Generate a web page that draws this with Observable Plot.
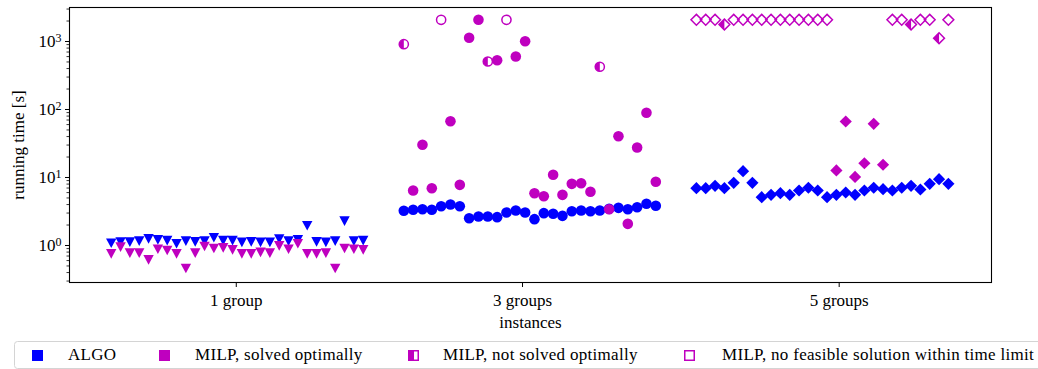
<!DOCTYPE html>
<html>
<head>
<meta charset="utf-8">
<script src="https://cdn.jsdelivr.net/npm/d3@7"></script>
<script src="https://cdn.jsdelivr.net/npm/@observablehq/plot@0.6"></script>
<style>
  html, body { margin: 0; padding: 0; background: white; }
  #wrap { position: relative; width: 1038px; height: 369px; overflow: hidden; font-family: "Liberation Serif", "DejaVu Serif", serif; }
  #chart svg { display: block; }
  #chart svg text, #legend text { font-family: "Liberation Serif", "DejaVu Serif", serif !important; }
  #legend text { letter-spacing: 0.3px; }
  #legend { position: absolute; left: 0; top: 336px; }
</style>
</head>
<body>
<div id="wrap">
  <div id="chart"></div>
  <svg id="legend" width="1038" height="33"></svg>
</div>
<script>
// ---- data ----
const groupLabels = ["1 group", "3 groups", "5 groups"];
const groupTickPos = [13.4, 44.07, 78.0];

const algo1 = [1.08,1.12,1.12,1.16,1.25,1.21,1.18,1.06,1.16,1.13,1.16,1.30,1.18,1.18,1.11,1.13,1.11,1.11,1.24,1.16,1.21,1.95,1.13,1.11,1.16,2.28,1.16,1.18];
const algo2 = [3.24,3.35,3.42,3.35,3.78,4.01,3.78,2.52,2.67,2.67,2.61,3.06,3.27,3.06,2.44,2.99,2.93,2.73,3.19,3.27,3.19,3.27,3.46,3.58,3.42,3.66,4.10,3.84];
const algo3 = [6.96,6.96,7.54,6.96,8.36,12.4,8.36,5.13,5.56,5.88,5.56,6.44,7.06,6.44,5.13,5.56,6.02,5.56,6.44,7.06,6.73,6.44,7.06,7.54,6.66,8.08,9.44,8.08];

const milp1 = [0.755,0.945,0.77,0.77,0.616,0.88,0.845,0.755,0.459,0.77,0.967,0.903,0.925,0.864,0.755,0.755,0.79,0.77,0.99,0.88,1.06,0.755,0.755,0.77,0.459,0.903,0.88,0.864];
const milp2 = [913,6.44,30.3,6.96,2085,67.3,7.8,1133,2085,508,531,2085,602,1010,5.88,5.31,10.96,5.56,8.07,8.24,6.16,425,3.42,40.5,2.08,27.6,89.4,8.64];
const milp3 = [2085,2085,2085,1778,2085,2085,2085,2085,2085,2085,2085,2085,2085,2085,2085,12.7,66.6,10.2,16.2,61.6,15.4,2085,2085,1778,2085,2085,1119,2085];

// S = solved optimally, N = not solved optimally, F = no feasible solution within time limit
const status1 = "SSSSSSSSSSSSSSSSSSSSSSSSSSSS".split("");
const status2 = "NSSSFSSSSNSFSSSSSSSSSNSSSSSS".split("");
const status3 = "FFFNFFFFFFFFFFFSSSSSSFFNFFNF".split("");

const legendLabels = ["ALGO", "MILP, solved optimally", "MILP, not solved optimally", "MILP, no feasible solution within time limit"];

// ---- build rows ----
const algos = [algo1, algo2, algo3];
const milps = [milp1, milp2, milp3];
const statuses = [status1, status2, status3];
const rows = [];
algos.forEach((arr, g) => arr.forEach((v, k) => {
  rows.push({g, x: g * 31.35 + k, algo: v, milp: milps[g][k], status: statuses[g][k]});
}));

const FONT = "Liberation Serif, DejaVu Serif, serif";
const FS = 17;
const BLUE = "#0000ff", MAG = "#bf00bf";
const rad = s => Math.sqrt(s / Math.PI);
const S = {
  tri: {draw(c, s) { const r = rad(s), h = r * 0.93; c.moveTo(-r, -h); c.lineTo(r, -h); c.lineTo(0, h); c.closePath(); }},
  triHalf: {draw(c, s) { const r = rad(s), h = r * 0.93; c.moveTo(0, -h); c.lineTo(-r, -h); c.lineTo(0, h); c.closePath(); }},
  circ: {draw(c, s) { const r = rad(s); c.moveTo(r, 0); c.arc(0, 0, r, 0, 2 * Math.PI); c.closePath(); }},
  circHalf: {draw(c, s) { const r = rad(s); c.moveTo(0, -r); c.arc(0, 0, r, -Math.PI / 2, Math.PI / 2, true); c.closePath(); }},
  dia: {draw(c, s) { const r = rad(s); c.moveTo(0, -r); c.lineTo(r, 0); c.lineTo(0, r); c.lineTo(-r, 0); c.closePath(); }},
  diaHalf: {draw(c, s) { const r = rad(s); c.moveTo(0, -r); c.lineTo(-r, 0); c.lineTo(0, r); c.closePath(); }}
};
const groupSym = [
  {full: S.tri, half: S.triHalf, r: 5.2, ro: 4.5},
  {full: S.circ, half: S.circHalf, r: 5.3, ro: 4.6},
  {full: S.dia, half: S.diaHalf, r: 6.1, ro: 5.4}
];

const marks = [];
groupSym.forEach((gs, g) => {
  const gr = rows.filter(d => d.g === g);
  marks.push(Plot.dot(gr, {x: "x", y: "algo", symbol: gs.full, r: gs.r, fill: BLUE}));
  marks.push(Plot.dot(gr.filter(d => d.status === "S"), {x: "x", y: "milp", symbol: gs.full, r: gs.r, fill: MAG}));
  marks.push(Plot.dot(gr.filter(d => d.status === "F"), {x: "x", y: "milp", symbol: gs.full, r: gs.ro, fill: "none", stroke: MAG, strokeWidth: 1.5}));
  const nr = gr.filter(d => d.status === "N");
  marks.push(Plot.dot(nr, {x: "x", y: "milp", symbol: gs.full, r: gs.ro, fill: "none", stroke: MAG, strokeWidth: 1.5}));
  marks.push(Plot.dot(nr, {x: "x", y: "milp", symbol: gs.half, r: gs.ro, fill: MAG}));
});

const majorTicks = [1, 10, 100, 1000];
const minorTicks = [];
for (let e = -1; e <= 3; e++) for (let m = 2; m <= 9; m++) {
  const v = m * Math.pow(10, e);
  if (v >= 0.2856 && v <= 3162) minorTicks.push(v);
}

const chart = Plot.plot({
  width: 1038,
  height: 336,
  marginLeft: 69,
  marginRight: 47,
  marginTop: 7,
  marginBottom: 54,
  x: {type: "linear", domain: [-4.47, 94.32], axis: null},
  y: {type: "log", domain: [0.2856, 3162], axis: null},
  style: {fontFamily: FONT, fontSize: FS + "px", color: "black", background: "white"},
  marks: [
    ...marks,
    Plot.frame({stroke: "black", strokeWidth: 1.1}),
    Plot.axisY(minorTicks, {anchor: "left", tickSize: 2.5, tickFormat: () => "", label: null, strokeWidth: 0.8}),
    Plot.axisY(majorTicks, {anchor: "left", tickSize: 4, tickPadding: 4, tickFormat: d => "10^" + Math.round(Math.log10(d)), label: null, strokeWidth: 1, fontSize: FS}),
    Plot.axisX(groupTickPos, {anchor: "bottom", tickSize: 5, tickPadding: 6, tickFormat: d => groupLabels[groupTickPos.indexOf(d)], label: null, strokeWidth: 1, fontSize: FS}),
    Plot.text(["running time [s]"], {frameAnchor: "left", dx: -51, rotate: -90, textAnchor: "middle", lineAnchor: "middle", fontSize: FS}),
    Plot.text(["instances"], {frameAnchor: "bottom", dy: 39.6, textAnchor: "middle", lineAnchor: "middle", fontSize: FS})
  ]
});
document.getElementById("chart").appendChild(chart);

// superscripts for the log tick labels
chart.querySelectorAll("text").forEach(t => {
  const m = /^10\^(-?\d+)$/.exec(t.textContent);
  if (m) {
    t.textContent = "10";
    const ts = document.createElementNS("http://www.w3.org/2000/svg", "tspan");
    ts.setAttribute("dy", "-0.45em");
    ts.setAttribute("font-size", "12");
    ts.textContent = m[1];
    t.appendChild(ts);
  }
});

// ---- legend (below the plot) ----
const NS = "http://www.w3.org/2000/svg";
const lg = document.getElementById("legend");
function el(name, attrs, text) {
  const e = document.createElementNS(NS, name);
  for (const k in attrs) e.setAttribute(k, attrs[k]);
  if (text != null) e.textContent = text;
  lg.appendChild(e);
  return e;
}
el("rect", {x: 14.5, y: 5.5, width: 1040, height: 27, rx: 3, fill: "white", stroke: "#d4d4d4", "stroke-width": 1});
const markerX = [32, 159, 408, 684];
const textX = [68, 195, 443, 722];
legendLabels.forEach((lab, i) => {
  const x = markerX[i], y = 14, w = 11, h = 11;
  if (i === 0) el("rect", {x, y, width: w, height: h, fill: BLUE});
  else if (i === 1) el("rect", {x, y, width: w, height: h, fill: MAG});
  else if (i === 2) {
    el("rect", {x: x + 0.75, y: y + 0.75, width: w - 1.5, height: h - 1.5, fill: "white", stroke: MAG, "stroke-width": 1.5});
    el("rect", {x, y, width: w / 2 + 0.5, height: h, fill: MAG});
  } else el("rect", {x: x + 0.75, y: y + 0.75, width: w - 1.5, height: h - 1.5, fill: "none", stroke: MAG, "stroke-width": 1.5});
  el("text", {x: textX[i], y: 24, "font-family": FONT, "font-size": FS, fill: "black"}, lab);
});
</script>
</body>
</html>
